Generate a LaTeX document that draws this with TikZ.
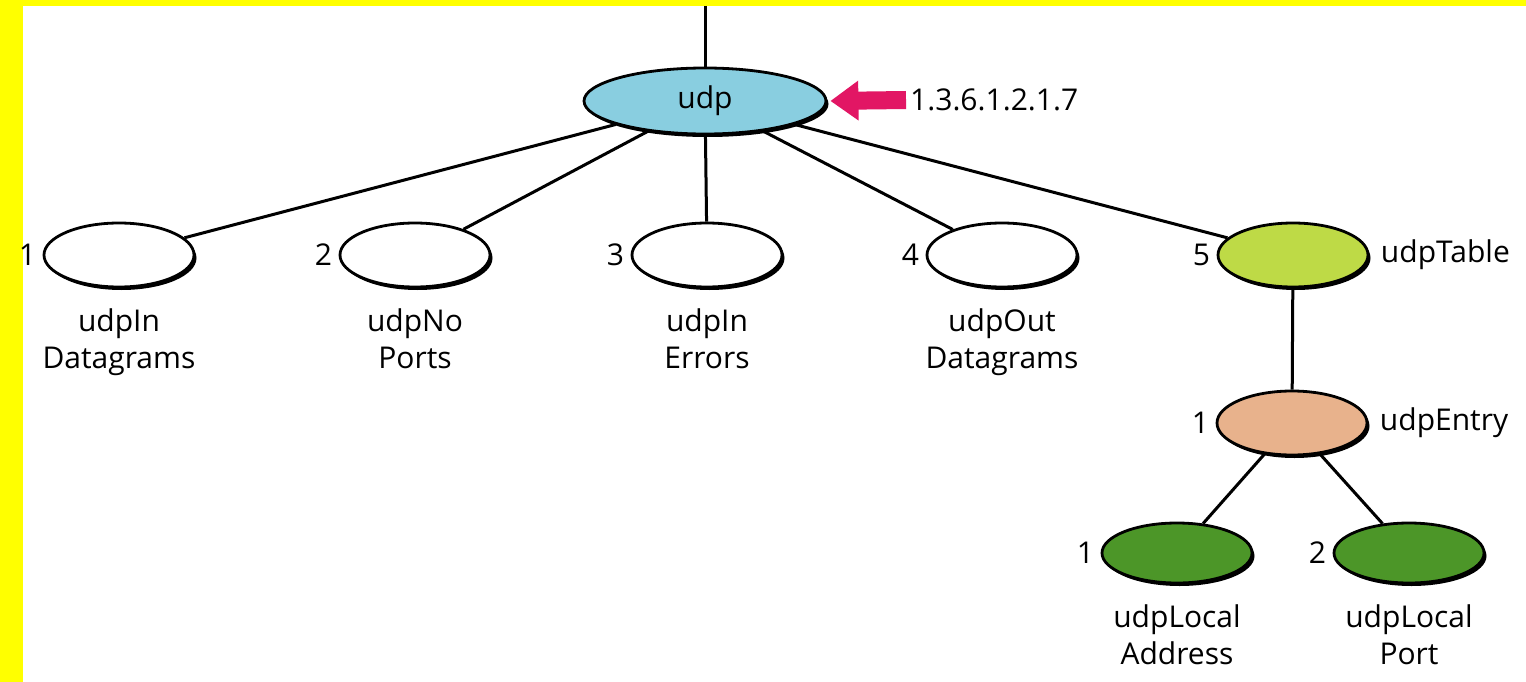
\documentclass[tikz,border=0pt]{standalone}
\usepackage{fontspec}
\setmainfont{Open Sans}
\usetikzlibrary{shapes.geometric,shadows,arrows.meta}
\definecolor{bgyellow}{RGB}{255,255,0}
\definecolor{udpblue}{RGB}{137,206,224}
\definecolor{tablegreen}{RGB}{190,218,70}
\definecolor{peach}{RGB}{232,178,140}
\definecolor{leafgreen}{RGB}{76,150,40}
\definecolor{oidpink}{RGB}{226,22,100}
\tikzset{
  obj/.style={ellipse, draw=black, line width=2.8pt, minimum width=150pt, minimum height=64pt, inner sep=0pt,
    drop shadow={shadow xshift=2.5pt, shadow yshift=-3pt, fill=black, opacity=1}},
  num/.style={label distance=3pt},
  below name/.style={label distance=17pt},
  conn/.style={line width=3pt, draw=black},
  txt/.style={font=\fontsize{30}{37}\selectfont, align=center}
}
\begin{document}
\begin{tikzpicture}[x=1pt,y=-1pt, every label/.style={txt}]
\useasboundingbox (0,0) rectangle (1526,682);
\fill[bgyellow] (0,0) rectangle (1526,682);
\fill[white] (23,6) rectangle (1526,682);

\node[obj, fill=udpblue, minimum width=242pt, minimum height=66pt, txt] (udp) at (705,101) {udp};
\coordinate (top) at (705,6);

\node[obj, fill=white, label={[num]left:1}, label={[below name]below:udpIn\\Datagrams}] (c1) at (119,255) {};
\node[obj, fill=white, label={[num]left:2}, label={[below name]below:udpNo\\Ports}] (c2) at (415,255) {};
\node[obj, fill=white, label={[num]left:3}, label={[below name]below:udpIn\\Errors}] (c3) at (707,255) {};
\node[obj, fill=white, label={[num]left:4}, label={[below name]below:udpOut\\Datagrams}] (c4) at (1002,255) {};
\node[obj, fill=tablegreen, label={[num]left:5}, label={[label distance=8pt]right:udpTable}] (c5) at (1293,255) {};

\node[obj, fill=peach, label={[num]left:1}, label={[label distance=8pt]right:udpEntry}] (entry) at (1292,423) {};

\node[obj, fill=leafgreen, minimum height=60pt, label={[num]left:1}, label={[below name]below:udpLocal\\Address}] (la) at (1177,553) {};
\node[obj, fill=leafgreen, minimum height=60pt, label={[num]left:2}, label={[below name]below:udpLocal\\Port}] (lp) at (1409,553) {};

\node[txt, anchor=west, inner sep=4pt] (oid) at (906,100) {1.3.6.1.2.1.7};

\draw[conn] (top) -- (udp);
\draw[conn] (udp) -- (c1);
\draw[conn] (udp) -- (c2);
\draw[conn] (udp) -- (c3);
\draw[conn] (udp) -- (c4);
\draw[conn] (udp) -- (c5);
\draw[conn] (c5) -- (entry);
\draw[conn] (entry) -- (la);
\draw[conn] (entry) -- (lp);

\draw[oidpink, line width=18pt, -{Triangle[width=38pt,length=28pt]}, shorten >=3pt] (oid.west) -- (udp.east);
\end{tikzpicture}
\end{document}
